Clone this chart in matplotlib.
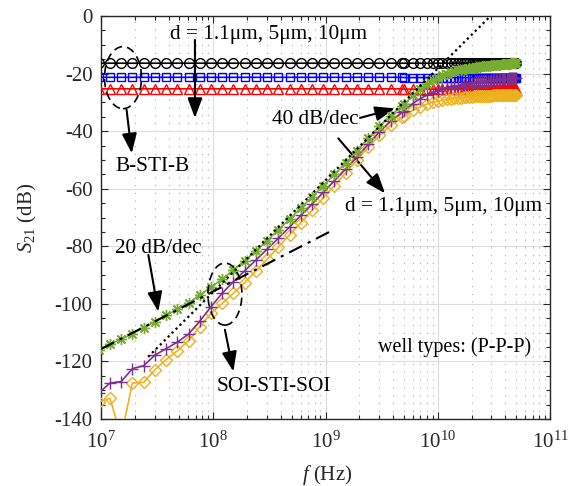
import numpy as np
import matplotlib
matplotlib.use('Agg')
import matplotlib.pyplot as plt
from matplotlib.patches import Ellipse
from matplotlib.ticker import LogLocator, MultipleLocator, NullFormatter, LogFormatterMathtext

plt.rcParams.update({
    'font.family': ['Liberation Serif', 'DejaVu Serif'],
    'mathtext.fontset': 'custom',
    'mathtext.rm': 'Liberation Serif',
    'mathtext.it': 'Liberation Serif:italic',
    'axes.unicode_minus': False,
    'font.size': 15,
})

# ---------------- data ----------------
# frequency sweep: log part (MHz) followed by linear part (GHz)
freq_log_mhz = [9.55, 12.02, 15.14, 19.05, 23.99, 30.20, 38.02, 47.86, 60.26, 75.86,
                95.50, 120.2, 151.4, 190.5, 239.9, 302.0, 380.2, 478.6, 602.6, 758.6,
                955.0, 1202, 1514, 1905, 2399, 3020, 3802, 4786]
freq_lin_ghz = [5, 6, 7, 8, 9, 10, 11, 12, 13, 14, 15, 16, 17, 18, 19, 20, 21, 22, 23,
                24, 25, 26, 27, 28, 29, 30, 31, 32, 33, 34, 35, 36, 37, 38, 39, 40, 41,
                42, 43, 44, 45, 46, 47, 48, 49, 50]

# B-STI-B (d = 1.1um, 5um, 10um)
s21_bstib_1 = [
    -16.4, -16.4, -16.4, -16.4, -16.4, -16.4, -16.4, -16.4, -16.4, -16.4,
    -16.4, -16.4, -16.4, -16.4, -16.4, -16.4, -16.4, -16.4, -16.4, -16.4,
    -16.4, -16.4, -16.4, -16.4, -16.4, -16.4, -16.4, -16.4,
    -16.4, -16.4, -16.4, -16.4, -16.4, -16.4, -16.4, -16.4, -16.4, -16.4,
    -16.4, -16.4, -16.4, -16.4, -16.4, -16.4, -16.4, -16.4, -16.4, -16.4,
    -16.35, -16.35, -16.35, -16.35, -16.35, -16.35, -16.35, -16.35, -16.35, -16.35,
    -16.35, -16.35, -16.35, -16.3, -16.3, -16.3, -16.3, -16.3, -16.3, -16.3,
    -16.3, -16.3, -16.3, -16.3, -16.3, -16.3]
s21_bstib_5 = [
    -21.3, -21.3, -21.3, -21.3, -21.3, -21.3, -21.3, -21.3, -21.3, -21.3,
    -21.3, -21.3, -21.3, -21.3, -21.3, -21.3, -21.3, -21.3, -21.3, -21.3,
    -21.3, -21.3, -21.3, -21.3, -21.3, -21.3, -21.3, -21.3,
    -21.4, -21.4, -21.4, -21.4, -21.4, -21.4, -21.4, -21.4, -21.4, -21.4,
    -21.4, -21.4, -21.4, -21.4, -21.4, -21.4, -21.4, -21.4, -21.4, -21.4,
    -21.4, -21.4, -21.4, -21.4, -21.4, -21.4, -21.4, -21.4, -21.4, -21.4,
    -21.4, -21.4, -21.4, -21.4, -21.4, -21.4, -21.4, -21.4, -21.4, -21.4,
    -21.4, -21.4, -21.4, -21.4, -21.4, -21.4]
s21_bstib_10 = [
    -25.3, -25.3, -25.3, -25.3, -25.3, -25.3, -25.3, -25.3, -25.3, -25.3,
    -25.3, -25.3, -25.3, -25.3, -25.3, -25.3, -25.3, -25.3, -25.3, -25.3,
    -25.3, -25.3, -25.3, -25.3, -25.3, -25.3, -25.3, -25.3,
    -25.4, -25.4, -25.4, -25.4, -25.4, -25.4, -25.4, -25.4, -25.4, -25.4,
    -25.4, -25.4, -25.4, -25.4, -25.4, -25.4, -25.4, -25.4, -25.4, -25.4,
    -25.4, -25.4, -25.4, -25.4, -25.4, -25.4, -25.4, -25.4, -25.4, -25.4,
    -25.4, -25.4, -25.4, -25.4, -25.4, -25.4, -25.4, -25.4, -25.4, -25.4,
    -25.4, -25.4, -25.4, -25.4, -25.4, -25.4]

# SOI-STI-SOI (d = 1.1um, 5um, 10um)
s21_soi_1 = [
    -116.1, -114.1, -112.3, -110.3, -108.3, -106.2, -104.0, -101.9, -99.6, -97.0,
    -94.2, -91.4, -88.2, -85.0, -81.6, -78.0, -74.3, -70.6, -66.7, -62.8,
    -58.9, -55.0, -51.0, -46.8, -42.5, -38.3, -34.6, -31.3,
    -30.7, -27.6, -25.4, -23.7, -22.4, -21.4, -20.6, -20.0, -19.5, -19.2,
    -18.9, -18.7, -18.5, -18.3, -18.1, -18.0, -17.9, -17.8, -17.7, -17.6,
    -17.5, -17.4, -17.35, -17.3, -17.2, -17.15, -17.1, -17.05, -17.0, -16.95,
    -16.9, -16.85, -16.8, -16.75, -16.7, -16.7, -16.65, -16.6, -16.6, -16.55,
    -16.5, -16.5, -16.45, -16.45, -16.4, -16.4]
s21_soi_5 = [
    -131.0, -127.5, -127.0, -122.5, -121.5, -117.8, -115.6, -113.3, -110.5, -106.0,
    -101.0, -96.3, -92.3, -88.5, -84.8, -81.0, -77.2, -73.3, -69.3, -65.3,
    -61.3, -57.2, -53.2, -49.0, -44.6, -40.3, -36.6, -33.5,
    -32.9, -30.4, -28.7, -27.5, -26.6, -25.9, -25.4, -25.0, -24.7, -24.4,
    -24.2, -24.0, -23.8, -23.6, -23.4, -23.3, -23.2, -23.1, -23.0, -22.9,
    -22.8, -22.7, -22.6, -22.5, -22.45, -22.4, -22.3, -22.25, -22.2, -22.15,
    -22.1, -22.0, -21.95, -21.9, -21.85, -21.8, -21.8, -21.75, -21.7, -21.7,
    -21.65, -21.6, -21.6, -21.55, -21.5, -21.5]
s21_soi_10 = [
    -134.0, -132.8, -146.0, -127.5, -127.3, -122.9, -119.4, -116.3, -112.8, -107.9,
    -103.3, -99.8, -96.3, -92.6, -88.6, -84.5, -80.3, -76.0, -71.8, -67.5,
    -63.2, -58.9, -54.5, -50.0, -45.6, -41.5, -38.0, -35.2,
    -34.7, -32.8, -31.5, -30.6, -30.0, -29.6, -29.3, -29.0, -28.8, -28.6,
    -28.5, -28.4, -28.3, -28.2, -28.1, -28.0, -27.95, -27.9, -27.9, -27.85,
    -27.8, -27.8, -27.75, -27.7, -27.7, -27.65, -27.6, -27.6, -27.6, -27.55,
    -27.55, -27.5, -27.5, -27.5, -27.45, -27.45, -27.4, -27.4, -27.4, -27.4,
    -27.35, -27.35, -27.35, -27.3, -27.3, -27.3]

# guide lines (20 dB/dec and 40 dB/dec), endpoints
ref20_f = [1.0e7, 1.096e9]
ref20_db = [-115.7, -74.9]
ref40_f = [2.63e7, 2.95e10]
ref40_db = [-118.4, 0.0]

x_ticks = [1e7, 1e8, 1e9, 1e10, 1e11]
y_ticks = [0, -20, -40, -60, -80, -100, -120, -140]

# ---------------- figure ----------------
freq = np.concatenate([np.array(freq_log_mhz) * 1e6, np.array(freq_lin_ghz) * 1e9])

fig = plt.figure(figsize=(5.8, 4.86), dpi=100)
ax = fig.add_axes([101 / 580, 1 - 419 / 486, 449 / 580, 403 / 486])

tc = '#262626'
ms_kw = dict(mfc='none', mew=1.0, lw=1.2)
ax.plot(freq, s21_bstib_1, color='k', marker='o', ms=7, **ms_kw, zorder=3)
ax.plot(freq, s21_bstib_5, color='#0000ff', marker='s', ms=5.5, **ms_kw, zorder=3)
ax.plot(freq, s21_bstib_10, color='#ff0000', marker='^', ms=6.5, **ms_kw, zorder=3)
ax.plot(freq, s21_soi_10, color='#EDB120', marker='D', ms=6, **ms_kw, zorder=4)
ax.plot(freq, s21_soi_5, color='#7E2F8E', marker='+', ms=8, **ms_kw, zorder=4)
ax.plot(freq, s21_soi_1, color='#77AC30', marker=(8, 2, 0), ms=8, **ms_kw, zorder=4)

ax.plot(ref20_f, ref20_db, color='k', lw=1.5, dashes=(7, 3, 1.5, 3), zorder=5)
ax.plot(ref40_f, ref40_db, color='k', lw=1.6, ls=(0, (1, 1.5)), zorder=5)

ax.set_xscale('log')
ax.set_xlim(1e7, 1e11)
ax.set_ylim(-140, 0)
ax.set_xticks(x_ticks)
ax.xaxis.set_major_formatter(LogFormatterMathtext())
ax.xaxis.set_minor_locator(LogLocator(base=10, subs=np.arange(2, 10), numticks=20))
ax.xaxis.set_minor_formatter(NullFormatter())
ax.set_yticks(y_ticks)
ax.yaxis.set_minor_locator(MultipleLocator(5))

ax.tick_params(which='both', direction='in', top=True, right=True, colors=tc, width=0.8)
ax.tick_params(which='major', length=5)
ax.tick_params(which='minor', length=3)
ax.tick_params(axis='x', which='major', pad=9, labelsize=15)
ax.tick_params(axis='y', which='major', pad=6, labelsize=15)
for sp in ax.spines.values():
    sp.set_color(tc)
    sp.set_linewidth(1.0)

ax.set_axisbelow(True)
ax.grid(which='major', color='#dcdcdc', lw=0.8, ls='-')
ax.grid(which='minor', axis='x', color='#b0b0b0', lw=0.8, ls=(0, (1, 6)))

ax.text(-0.164, 0.5, r'$S_{21}$ (dB)', transform=ax.transAxes, rotation=90,
        ha='center', va='center', fontsize=15, color=tc)
ax.text(0.503, -0.139, r'$f$ (Hz)', transform=ax.transAxes,
        ha='center', va='center', fontsize=15, color=tc)

# annotations
arw = dict(arrowstyle='-|>,head_length=0.8,head_width=0.3', color='k', lw=1.5,
           shrinkA=0, shrinkB=0, mutation_scale=15)
ax.text(3.1e8, -6.6, 'd = 1.1μm, 5μm, 10μm', ha='center', va='center', fontsize=15.3)
ax.annotate('', xy=(6.87e7, -35.4), xytext=(6.87e7, -8.3), arrowprops=arw)

ax.add_patch(Ellipse((0.049, 0.847), 0.0824, 0.154, transform=ax.transAxes,
                     fill=False, ec='k', lw=1.2, ls=(0, (5, 3)), zorder=6))
ax.annotate('', xy=(1.88e7, -47.7), xytext=(1.69e7, -32.6), arrowprops=arw)
ax.text(2.9e7, -52.3, 'B-STI-B', ha='center', va='center', fontsize=15.3)

ax.text(8.05e8, -36.1, '40 dB/dec', ha='center', va='center', fontsize=15.3)
ax.annotate('', xy=(4.16e9, -32.1), xytext=(2.03e9, -35.4), arrowprops=arw)

ax.text(1.12e10, -66.2, 'd = 1.1μm, 5μm, 10μm', ha='center', va='center', fontsize=15.3)
ax.annotate('', xy=(3.39e9, -61.6), xytext=(1.30e9, -42.5), arrowprops=arw)

ax.text(3.24e7, -80.7, '20 dB/dec', ha='center', va='center', fontsize=15.3)
ax.annotate('', xy=(3.24e7, -102.7), xytext=(2.64e7, -83.0), arrowprops=arw)

ax.add_patch(Ellipse((0.276, 0.310), 0.0757, 0.154, transform=ax.transAxes,
                     fill=False, ec='k', lw=1.2, ls=(0, (5, 3)), zorder=6))
ax.annotate('', xy=(1.51e8, -123.5), xytext=(1.27e8, -109.0), arrowprops=arw)
ax.text(3.43e8, -128.8, 'SOI-STI-SOI', ha='center', va='center', fontsize=15.3)

ax.text(1.42e10, -114.9, 'well types: (P-P-P)', ha='center', va='center', fontsize=14.5)

fig.savefig('out.png', dpi=100)
